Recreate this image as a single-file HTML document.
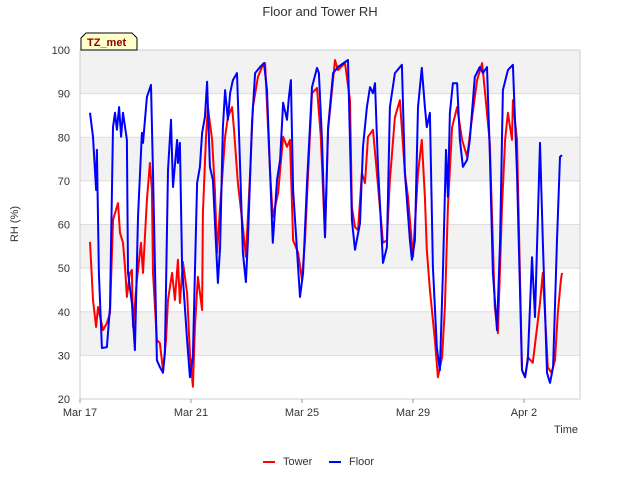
<!DOCTYPE html>
<html><head><meta charset="utf-8"><style>
body{margin:0;background:#fff;font-family:"Liberation Sans",sans-serif}
svg text{font-family:"Liberation Sans","DejaVu Sans",sans-serif}
</style></head><body>
<svg id="c" width="640" height="480" xmlns="http://www.w3.org/2000/svg">
<text x="320" y="16" text-anchor="middle" font-size="13" fill="#333">Floor and Tower RH</text>
<g id="bands"></g><g id="grid"></g>
<rect x="80" y="50" width="500" height="349" fill="none" stroke="#ccc"/>
<g id="yt"></g><g id="xt"></g>
<g id="series"></g>
<text x="18" y="224" transform="rotate(-90 18 224)" text-anchor="middle" font-size="11" fill="#333">RH (%)</text>
<text x="578" y="433" text-anchor="end" font-size="11" fill="#333">Time</text>
<g>
<path d="M81,50 L81,38 L86,33 L132,33 L137,38 L137,50 Z" fill="#ffffcc" stroke="#000"/>
<text x="87" y="46" font-size="11" font-weight="bold" fill="#8b0000">TZ_met</text>
</g>
<g><line x1="263" y1="462" x2="275" y2="462" stroke="#f00" stroke-width="2"/><text x="283" y="465" font-size="11" fill="#333">Tower</text></g>
<g><line x1="329" y1="462" x2="341" y2="462" stroke="#00f" stroke-width="2"/><text x="349" y="465" font-size="11" fill="#333">Floor</text></g>
</svg>
<script>
const yTicks=[20,30,40,50,60,70,80,90,100];
const xTickDays=[0,4,8,12,16];
const xTickLabels=["Mar 17","Mar 21","Mar 25","Mar 29","Apr 2"];
const towerT=[0.36,0.47,0.58,0.65,0.83,0.97,1.08,1.19,1.26,1.37,1.44,1.55,1.62,1.69,1.80,1.87,1.91,2.05,2.20,2.27,2.41,2.52,2.59,2.63,2.77,2.88,2.99,3.10,3.17,3.32,3.42,3.53,3.60,3.71,3.86,3.96,4.07,4.14,4.25,4.40,4.43,4.54,4.61,4.76,4.86,4.94,5.05,5.23,5.33,5.48,5.55,5.69,5.87,5.98,6.13,6.23,6.41,6.56,6.67,6.85,6.95,7.14,7.32,7.46,7.57,7.68,7.86,8.00,8.11,8.22,8.36,8.54,8.68,8.83,8.94,9.19,9.30,9.55,9.73,9.80,9.91,10.02,10.16,10.27,10.38,10.56,10.70,10.92,11.06,11.17,11.35,11.53,11.71,11.82,12.00,12.18,12.32,12.43,12.50,12.61,12.79,12.90,13.05,13.15,13.26,13.41,13.59,13.77,13.95,14.13,14.31,14.49,14.59,14.77,14.95,15.06,15.21,15.32,15.42,15.57,15.60,15.75,15.93,16.04,16.14,16.32,16.58,16.68,16.86,16.99,17.12,17.22,17.33,17.37];
const towerV=[56.0,42.7,36.5,41.1,35.8,37.4,39.7,61.0,62.6,64.9,58.1,55.8,50.3,43.4,48.9,49.6,36.5,47.3,55.8,48.9,65.6,74.1,67.9,48.9,33.5,32.8,26.6,33.5,42.7,48.9,42.7,51.9,42.0,51.4,44.3,30.5,22.8,36.5,48.0,40.4,62.6,80.1,86.9,79.4,67.9,53.5,64.0,80.1,84.6,86.9,81.7,69.5,59.4,52.6,71.8,86.9,93.8,96.1,97.0,71.8,61.7,67.2,80.1,77.8,79.4,56.4,53.5,47.3,56.4,71.8,90.1,91.3,80.1,57.1,81.7,97.7,95.4,97.0,88.5,64.0,59.4,58.7,71.8,69.5,80.1,81.7,71.8,55.8,56.4,70.2,84.6,88.5,71.8,66.3,52.6,71.8,79.4,66.3,54.2,45.0,33.5,25.0,29.6,41.1,64.0,82.3,86.9,79.4,75.5,84.6,93.1,97.0,90.8,78.7,41.1,35.1,64.0,79.4,85.6,79.4,88.5,79.4,26.6,25.0,29.6,28.3,42.0,48.9,27.3,26.0,28.9,39.7,47.3,48.9];
const floorT=[0.36,0.47,0.58,0.61,0.68,0.79,0.97,1.08,1.19,1.26,1.33,1.41,1.48,1.55,1.69,1.73,1.87,1.98,2.09,2.23,2.27,2.41,2.56,2.63,2.77,2.88,2.99,3.06,3.17,3.28,3.35,3.50,3.53,3.60,3.68,3.86,3.96,4.07,4.14,4.22,4.32,4.40,4.50,4.58,4.68,4.79,4.94,4.97,5.05,5.15,5.23,5.33,5.41,5.51,5.66,5.77,5.87,5.98,6.05,6.20,6.31,6.49,6.63,6.74,6.85,6.95,7.10,7.21,7.32,7.46,7.53,7.60,7.68,7.93,8.04,8.18,8.36,8.54,8.61,8.72,8.83,8.94,9.12,9.30,9.66,9.80,9.91,10.09,10.20,10.34,10.45,10.56,10.63,10.74,10.92,11.06,11.17,11.35,11.60,11.71,11.89,11.96,12.07,12.18,12.32,12.43,12.50,12.61,12.72,12.86,12.97,13.08,13.19,13.26,13.33,13.44,13.59,13.69,13.80,13.95,14.05,14.23,14.41,14.52,14.67,14.77,14.88,15.03,15.14,15.24,15.42,15.60,15.75,15.93,16.04,16.14,16.29,16.40,16.58,16.68,16.83,16.94,17.05,17.19,17.30,17.37];
const floorV=[85.6,80.1,67.9,77.1,48.9,31.7,31.9,41.1,82.3,85.6,81.7,86.9,80.1,85.6,79.4,48.9,42.0,31.2,61.7,81.0,78.7,89.2,92.0,71.8,28.9,27.3,26.0,30.5,72.5,84.0,68.6,79.4,74.1,78.7,50.3,33.5,25.0,29.6,48.9,69.5,73.2,81.0,84.6,92.7,73.2,70.2,50.3,46.6,54.8,82.3,90.8,84.0,90.1,93.1,94.7,73.2,53.5,46.8,56.4,83.3,94.7,96.1,97.0,90.8,71.8,55.8,70.2,74.8,87.9,84.0,89.2,93.1,67.9,43.4,48.9,69.5,91.5,95.9,94.7,79.4,57.1,82.3,94.7,96.1,97.7,61.0,54.2,60.3,77.8,86.9,91.5,90.1,92.4,73.2,51.2,54.8,86.9,94.7,96.6,71.8,56.4,51.9,56.4,86.9,95.9,86.9,82.3,85.6,50.3,31.9,26.6,48.9,77.1,66.3,85.6,92.4,92.4,79.4,73.2,74.8,79.4,93.8,96.1,94.7,96.1,76.4,48.9,35.8,56.4,90.8,95.4,96.6,71.8,26.6,25.0,28.9,52.5,38.8,78.7,56.4,26.0,23.7,27.3,56.4,75.5,75.9];
const X0=80,X1=580,Y0=399,Y1=50,DMIN=0,DMAX=18.02,VMIN=20,VMAX=100;
function xs(d){return X0+(d-DMIN)/(DMAX-DMIN)*(X1-X0);}
function ys(v){return Y0-(v-VMIN)/(VMAX-VMIN)*(Y0-Y1);}
const NS="http://www.w3.org/2000/svg";
function mk(t,a,p){const e=document.createElementNS(NS,t);for(const k in a)e.setAttribute(k,a[k]);p.appendChild(e);return e;}
const bands=document.getElementById('bands'),grid=document.getElementById('grid'),yt=document.getElementById('yt'),xt=document.getElementById('xt'),ser=document.getElementById('series');
for(let i=0;i<yTicks.length-1;i++){
  if((yTicks.length-2-i)%2===0){
    const r=mk('rect',{x:X0,y:ys(yTicks[i+1]),width:X1-X0,height:ys(yTicks[i])-ys(yTicks[i+1]),fill:'#f2f2f2'},bands);
    
    
  }
}
yTicks.forEach(v=>{
  const l=mk('line',{x1:X0,x2:X1,y1:ys(v),y2:ys(v),stroke:'#ddd'},grid);
  
  
  const t=mk('text',{x:X0-10,y:ys(v)+4,'text-anchor':'end','font-size':'11',fill:'#333'},yt);
  t.textContent=v;
  
  
});
xTickDays.forEach((d,i)=>{
  const l=mk('line',{x1:xs(d),x2:xs(d),y1:Y0,y2:Y0+4,stroke:'#999'},xt);
  
  
  const t=mk('text',{x:xs(d),y:Y0+17,'text-anchor':'middle','font-size':'11',fill:'#333'},xt);
  t.textContent=xTickLabels[i];
  
  
});
function line(T,V,color,name){
  const d=T.map((t,i)=>(i?'L':'M')+xs(t).toFixed(1)+','+ys(V[i]).toFixed(1)).join(' ');
  const p=mk('path',{d:d,fill:'none',stroke:color,'stroke-width':'2','stroke-linejoin':'round'},ser);
  
  
}
line(towerT,towerV,'#ff0000','tower-line');
line(floorT,floorV,'#0000ff','floor-line');
</script>
</body></html>
